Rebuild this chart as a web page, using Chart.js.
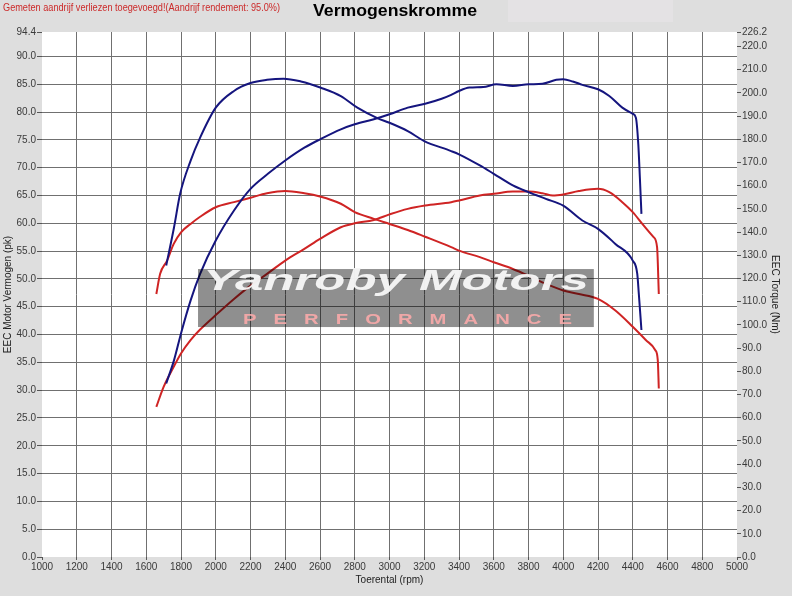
<!DOCTYPE html>
<html><head><meta charset="utf-8">
<script src="https://cdn.jsdelivr.net/npm/chart.js@4/dist/chart.umd.min.js"></script>
<style>html,body{margin:0;padding:0;background:#dedede;}canvas{display:block;}</style>
</head><body>
<canvas id="c" width="792" height="596"></canvas>
<script>
// ---- data ----
const tunedPowerRpm = [1715,1760,1800,1855,1910,2000,2105,2200,2300,2400,2510,2600,2720,2800,2910,3000,3105,3205,3300,3355,3400,3460,3540,3615,3710,3800,3880,3960,4000,4055,4110,4200,4265,4340,4400,4418,4432,4441,4450];
const tunedPowerPk  = [31.2,35.4,40.2,46.1,50.9,56.9,62.3,66.2,68.9,71.3,73.6,75.1,76.9,77.8,78.7,79.6,80.8,81.5,82.4,83.1,83.8,84.4,84.5,85.0,84.7,85.0,85.1,85.8,85.9,85.5,84.9,84.1,82.9,80.8,79.7,79.0,74.2,68.2,61.7];

const tunedTorqueRpm = [1715,1760,1795,1855,1910,2000,2105,2200,2295,2390,2490,2605,2720,2815,2930,3000,3105,3200,3355,3400,3520,3600,3710,3800,3900,4000,4110,4200,4300,4400,4426,4435,4450];
const tunedTorqueNm  = [125.6,142.1,156.5,170.7,180.7,193.6,200.8,204.2,205.6,206.1,204.9,202.2,198.6,193.6,189.1,187.1,183.5,179.2,174.9,173.5,168.7,165.1,160.1,157.2,154.3,151.4,145.0,141.4,134.9,127.7,122.0,113.3,97.8];

const stockPowerRpm = [1658,1700,1758,1800,1855,1910,2000,2105,2200,2295,2400,2510,2600,2720,2800,2910,3000,3105,3205,3355,3400,3520,3600,3710,3800,3880,3940,4000,4090,4200,4265,4340,4400,4455,4520,4540,4550];
const stockPowerPk  = [27.0,30.6,34.2,36.6,39.0,40.9,43.5,46.4,48.8,50.9,53.3,55.4,57.2,59.3,60.0,60.6,61.6,62.6,63.2,63.8,64.1,65.0,65.3,65.7,65.7,65.4,65.0,65.2,65.8,66.2,65.6,63.8,62.0,59.9,57.5,55.7,47.3];

const stockTorqueRpm = [1658,1680,1720,1758,1800,1855,1910,2000,2105,2200,2295,2400,2510,2600,2720,2800,2910,3000,3105,3205,3355,3400,3520,3600,3710,3800,3900,4000,4090,4200,4300,4400,4475,4530,4544,4550];
const stockTorqueNm  = [113.3,122.0,127.7,134.9,139.9,143.5,146.6,150.7,152.9,154.8,156.7,157.7,156.7,155.3,152.2,148.6,145.7,143.5,140.9,138.0,133.5,132.0,129.2,127.0,124.1,121.2,117.7,114.8,113.3,111.2,106.2,99.2,93.5,89.1,84.8,72.6];

const xTickValues = [1000,1200,1400,1600,1800,2000,2200,2400,2600,2800,3000,3200,3400,3600,3800,4000,4200,4400,4600,4800,5000];
const leftTickValues = [0,5,10,15,20,25,30,35,40,45,50,55,60,65,70,75,80,85,90,94.4];
const rightTickValues = [0,10,20,30,40,50,60,70,80,90,100,110,120,130,140,150,160,170,180,190,200,210,220,226.2];

const headerText = 'Gemeten aandrijf verliezen toegevoegd!(Aandrijf rendement: 95.0%)';
const titleText = 'Vermogenskromme';
const xTitle = 'Toerental (rpm)';
const leftTitle = 'EEC Motor Vermogen (pk)';
const rightTitle = 'EEC Torque (Nm)';
const watermarkMain = 'Yanroby Motors';
const watermarkSub = 'PERFORMANCE';

// ---- helpers ----
const zip = (xs, ys) => xs.map((x, i) => ({x, y: ys[i]}));
const FONT = "'Liberation Sans', Arial, sans-serif";
const NAVY = '#15157e';
const RED = '#cf2424';
const GRID = '#707070';
const TICKC = '#555555';
const LABELC = '#3a3a3a';

const bgPlugin = {
  id: 'bg',
  beforeDraw(chart) {
    const {ctx, chartArea: a} = chart;
    ctx.save();
    ctx.fillStyle = '#dedede';
    ctx.fillRect(0, 0, chart.width, chart.height);
    ctx.fillStyle = '#e4e2e4';
    ctx.fillRect(508, 0, 165, 22);
    ctx.fillStyle = '#ffffff';
    ctx.fillRect(a.left, a.top, a.right - a.left, a.bottom - a.top);
    ctx.restore();
  },
  afterDraw(chart) {
    const {ctx} = chart;
    ctx.save();
    // header note
    ctx.fillStyle = '#cc2a2a';
    ctx.textBaseline = 'middle';
    ctx.textAlign = 'left';
    ctx.font = '11.5px ' + FONT;
    const hw = ctx.measureText(headerText).width;
    ctx.save();
    ctx.translate(3, 8);
    ctx.scale(277 / hw, 1);
    ctx.fillText(headerText, 0, 0);
    ctx.restore();
    // title
    ctx.fillStyle = '#000';
    ctx.textAlign = 'center';
    ctx.font = 'bold 16px ' + FONT;
    const tw = ctx.measureText(titleText).width;
    ctx.save();
    ctx.translate(395, 12);
    ctx.scale(164 / tw, 1);
    ctx.fillText(titleText, 0, 0);
    ctx.restore();
    ctx.restore();
  },
  afterDatasetsDraw(chart) {
    const {ctx, chartArea: a} = chart;
    const W = a.right - a.left, H = a.bottom - a.top;
    const bx1 = a.left + W * 0.2245, bx2 = a.left + W * 0.794;
    const by1 = a.top + H * 0.4515, by2 = a.top + H * 0.562;
    ctx.save();
    ctx.fillStyle = 'rgba(0,0,0,0.44)';
    ctx.fillRect(bx1, by1, bx2 - bx1, by2 - by1);
    // main watermark text
    ctx.fillStyle = 'rgba(245,245,245,0.97)';
    ctx.textBaseline = 'alphabetic';
    ctx.textAlign = 'left';
    ctx.font = 'italic bold 29px ' + FONT;
    const mw = ctx.measureText(watermarkMain).width;
    const targetW = (bx2 - bx1) - 10;
    ctx.save();
    ctx.translate(bx1 + 5, by1 + 21);
    ctx.scale(targetW / mw, 1);
    ctx.fillText(watermarkMain, 0, 0);
    ctx.restore();
    // sub text
    ctx.fillStyle = 'rgba(250,170,170,0.9)';
    ctx.font = 'bold 15px ' + FONT;
    ctx.textBaseline = 'middle';
    ctx.save();
    ctx.translate(bx1 + W * 0.0647, by1 + H * 0.097);
    ctx.scale(1.35, 1);
    ctx.letterSpacing = '0px';
    const sw0 = ctx.measureText(watermarkSub).width;
    const spacing = ((329 / 1.35) - sw0) / (watermarkSub.length - 1);
    ctx.letterSpacing = spacing.toFixed(2) + 'px';
    ctx.fillText(watermarkSub, 0, 0);
    ctx.restore();
    ctx.restore();
  }
};

const edgeTransparent = (edges) => (c) => {
  const v = c.tick && c.tick.value;
  return edges.includes(v) ? 'rgba(0,0,0,0)' : GRID;
};

const lineDs = (label, data, color, axis) => ({
  label, data, borderColor: color, backgroundColor: color,
  borderWidth: 2, pointRadius: 0, fill: false,
  cubicInterpolationMode: 'monotone', yAxisID: axis
});

new Chart(document.getElementById('c'), {
  type: 'line',
  data: {
    datasets: [
      lineDs('Vermogen getuned', zip(tunedPowerRpm, tunedPowerPk), NAVY, 'y'),
      lineDs('Koppel getuned', zip(tunedTorqueRpm, tunedTorqueNm), NAVY, 'y1'),
      lineDs('Vermogen standaard', zip(stockPowerRpm, stockPowerPk), RED, 'y'),
      lineDs('Koppel standaard', zip(stockTorqueRpm, stockTorqueNm), RED, 'y1')
    ]
  },
  plugins: [bgPlugin],
  options: {
    responsive: false,
    animation: false,
    devicePixelRatio: 1,
    layout: {padding: {top: 32, left: 0, right: 0, bottom: 0}},
    plugins: {legend: {display: false}, title: {display: false}, tooltip: {enabled: false}},
    scales: {
      x: {
        type: 'linear', position: 'bottom', min: 1000, max: 5000,
        afterBuildTicks: s => { s.ticks = xTickValues.map(v => ({value: v})); },
        afterFit: s => { s.height = 39; },
        ticks: {font: {family: FONT, size: 10}, color: LABELC, maxRotation: 0, autoSkip: false, padding: 1, callback: v => String(v)},
        grid: {color: edgeTransparent([1000, 5000]), tickColor: TICKC, tickLength: 3, lineWidth: 1},
        border: {display: false},
        title: {display: true, text: xTitle, font: {family: FONT, size: 10}, color: '#222', padding: {top: 0, bottom: 10}}
      },
      y: {
        type: 'linear', position: 'left', min: 0, max: 94.4,
        afterBuildTicks: s => { s.ticks = leftTickValues.map(v => ({value: v})); },
        afterFit: s => { s.width = 42; },
        ticks: {font: {family: FONT, size: 10}, color: LABELC, padding: 1, callback: v => Number(v).toFixed(1)},
        grid: {color: edgeTransparent([0, 94.4]), tickColor: TICKC, tickLength: 5, lineWidth: 1},
        border: {display: false},
        title: {display: true, text: leftTitle, font: {family: FONT, size: 10}, color: '#222', padding: {top: 2, bottom: 0}}
      },
      y1: {
        type: 'linear', position: 'right', min: 0, max: 226.2,
        afterBuildTicks: s => { s.ticks = rightTickValues.map(v => ({value: v})); },
        afterFit: s => { s.width = 55; },
        ticks: {font: {family: FONT, size: 10}, color: LABELC, padding: 1, callback: v => Number(v).toFixed(1)},
        grid: {drawOnChartArea: false, tickColor: TICKC, tickLength: 4, lineWidth: 1},
        border: {display: false},
        title: {display: true, text: rightTitle, font: {family: FONT, size: 10}, color: '#222', padding: {top: 11, bottom: 0}}
      }
    }
  }
});
</script>
</body></html>
